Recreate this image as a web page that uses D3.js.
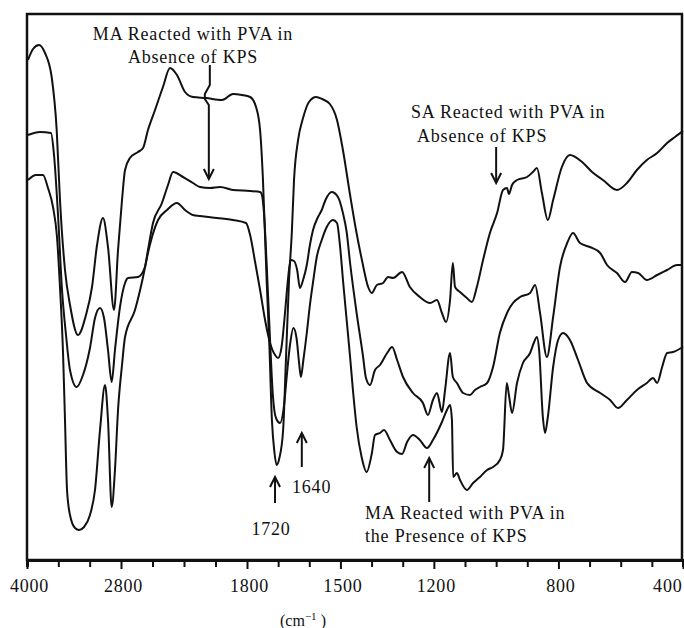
<!DOCTYPE html>
<html>
<head>
<meta charset="utf-8">
<script src="https://cdn.jsdelivr.net/npm/d3@7"></script>
<style>
  html, body { margin: 0; padding: 0; background: #fff; }
  svg { display: block; }
  text { font-family: "Liberation Serif", "DejaVu Serif", serif; fill: #111; }
</style>
</head>
<body>
<svg id="chart" width="684" height="628"></svg>
<script>
// ---- data (wavenumber cm^-1, relative transmittance) ----
const tickValues = [4000,3600,3200,2800,2550,2300,2050,1800,1700,1600,1500,1400,1300,1200,1100,1000,900,800,700,600,500,400];
const tickLabels = [4000,2800,1800,1500,1200,800,400];

const saAbsence = [
[3987,101],[3923,103.2],[3847,104],[3770,102.4],[3685,97.6],[3621,87],[3579,73],[3515,59],[3451,52],[3349,46],
[3247,50],[3170,55.6],[3106,64],[3030,69.4],[2966,63.6],[2889,51],[2838,63],[2792,73],[2768,79],[2729,81.4],
[2665,82.6],[2625,83.4],[2586,87],[2530,91],[2467,95.6],[2411,99.4],[2356,98],[2292,94.6],[2229,93.6],[2125,93.4],
[1998,93],[1911,94.2],[1840,94],[1790,93.6],[1771,91.6],[1758,87],[1749,77.4],[1737,57],[1728,43.6],[1720,29],
[1712,22.6],[1705,20],[1696,21.4],[1684,27],[1675,41],[1665,57],[1656,66.6],[1649,77],[1636,85],[1620,89.4],
[1601,92.6],[1578,93.6],[1559,93.2],[1534,92.2],[1511,89],[1492,83],[1469,74],[1450,67],[1431,61],[1411,55.6],
[1399,54.4],[1383,56],[1363,56.4],
[1347,57.6],[1331,57.4],[1302,58.6],[1277,55.6],[1245,53.6],[1212,52.4],[1190,53],[1174,50.4],[1161,48.6],[1148,53],
[1139,60.4],[1132,55.6],[1116,54.6],[1094,53.4],[1078,52.6],[1062,55.6],[1042,61],[1020,66.4],[997,70.4],[978,75],
[965,75.4],[959,74.2],[949,76],[933,77],[901,77.6],[882,78.6],[869,79.4],[853,74.4],[834,69],[817,73],
[789,79.6],[763,82],[724,80.6],[692,78.6],[657,77],[612,75],[580,76.4],[548,79],[516,81],[483,82.4],
[451,84.4],[426,85.6],[400,86.8]
];

const maAbsence = [
[3987,86],[3834,86.6],[3694,86.4],[3655,82],[3604,70],[3553,55],[3502,46],[3451,39],[3366,35.6],[3285,38],
[3196,43.4],[3132,49.4],[3068,51.4],[3017,49.4],[2966,43],[2919,36.6],[2877,43],[2813,51.6],[2768,56.4],[2744,57.4],
[2665,57.6],[2610,59.6],[2586,63],[2546,68.4],[2475,72.4],[2427,76],[2387,78.6],[2308,77.6],[2229,76.4],[2173,75.6],
[2094,75.4],[2014,75.6],[1911,75],[1790,74.8],[1758,74.6],[1753,74.2],[1745,70],[1736,59],[1726,45],[1717,34],
[1707,29.4],[1694,28.4],[1681,32],[1672,38],[1662,44],[1651,47.4],[1641,45.4],[1633,40.6],[1627,37.6],[1619,41],
[1608,46.4],[1598,52],[1587,57],[1576,61.6],[1560,65],[1544,67.6],[1524,69],[1511,68.4],[1501,63.6],[1491,56.4],
[1480,49],[1469,41.6],[1459,34.4],[1448,27.6],[1432,21.6],[1416,18.6],
[1399,22.4],[1389,26],[1373,26.4],[1360,27],[1341,25],[1318,22.6],[1302,22.2],[1286,24.6],[1267,26],[1245,25],
[1222,23.4],[1203,25],[1174,28.6],[1158,31],[1148,32],[1142,29],[1138,17.6],[1126,18.4],[1116,17],[1094,15],
[1074,16.4],[1052,17.6],[1029,19],[1010,19.6],[988,21],[978,23],[966,36.4],[959,34],[949,30.4],[933,36.4],
[914,40.4],[891,42.4],[878,44.6],[869,45.6],[862,43],[850,29.6],[843,26.4],[834,29.6],[817,39.6],[801,45],
[785,46.4],[763,45],[737,41],[708,36.4],[666,34.4],[634,33],[609,31.4],[580,33],[548,35],[516,36.4],
[496,37.4],[483,36.4],[467,39.6],[451,42.4],[432,42.6],[400,43.6]
];

const maPresence = [
[3987,77],[3885,78],[3796,78],[3732,75.4],[3668,71.6],[3617,65.6],[3579,55.6],[3540,42.4],[3515,29],[3489,15],
[3451,10],[3387,7.4],[3336,7],[3272,7.6],[3196,10],[3132,15],[3068,27],[3004,36],[2966,29],[2919,11.6],
[2877,19],[2838,31],[2792,40],[2768,45.6],[2689,51],[2625,57.6],[2586,62.4],[2554,65.6],[2506,69],[2435,71],
[2356,72.4],[2292,71],[2229,70],[2173,69.8],[2038,69.4],[1911,69],[1808,68.4],[1790,66],[1774,60.6],[1758,55],
[1742,49],[1726,44.4],[1710,42],[1700,41.4],[1689,43.6],[1678,50.4],[1668,57.4],[1660,61],[1649,60.8],[1639,59],
[1630,55.4],[1620,57],[1608,60],[1598,64],[1588,67],[1572,69.6],[1560,71],[1548,73],[1528,74.6],[1508,73.6],
[1492,70.4],[1480,66.6],[1469,60.4],[1448,50.4],[1428,42],[1418,37.4],[1405,36],
[1389,39],[1373,40],[1350,42.4],[1334,43.6],[1318,41],[1299,37.6],[1267,34.4],[1235,32.4],[1219,30],[1203,33],
[1190,34.4],[1174,30.6],[1164,35],[1148,42.4],[1139,37.6],[1126,36.4],[1106,34.4],[1084,34],[1068,35],[1052,35.6],
[1029,36.4],[1010,39.6],[988,46.4],[965,50.4],[946,52.4],[923,53.6],[891,54.4],[875,56],[859,50.4],[837,41.6],
[817,49.6],[795,59.6],[772,64.4],[753,66.4],[731,64.4],[699,63.6],[666,62.4],[644,60],[612,58.4],[586,56.6],
[564,58.6],[544,58.4],[516,57],[483,58],[451,59],[419,60],[400,60]
];

// ---- scales ----
const svg = d3.select("#chart");
const frame = {left: 27, right: 682, top: 14, bottom: 560};

const x = d3.scaleLinear()
  .domain([4000, 2800, 1800, 400])
  .range([27, 121, 247, 683]);
const y = d3.scaleLinear().domain([0, 110]).range([565, 15]);

// ---- frame ----
svg.append("rect")
  .attr("x", frame.left).attr("y", frame.top)
  .attr("width", frame.right - frame.left).attr("height", frame.bottom - frame.top)
  .attr("fill", "none").attr("stroke", "#111").attr("stroke-width", 2.5);

// ---- axis ----
const axis = d3.axisBottom(x)
  .tickValues(tickValues)
  .tickSize(7)
  .tickPadding(12)
  .tickFormat(d => tickLabels.includes(d) ? String(d) : "");
const gAxis = svg.append("g").attr("transform", `translate(0,${frame.bottom})`).call(axis);
gAxis.select(".domain").attr("stroke", "#111").attr("stroke-width", 3);
gAxis.selectAll(".tick line").attr("stroke", "#111").attr("stroke-width", 2)
  .attr("y2", d => tickLabels.includes(d) ? 9 : 7);
gAxis.selectAll(".tick text")
  .attr("font-family", "Liberation Serif, serif")
  .attr("font-size", 18).attr("letter-spacing", 0.8).attr("fill", "#111")
  .attr("text-anchor", d => d === 400 ? "end" : "middle")
  .attr("dx", d => d === 400 ? -1 : 2);

// ---- curves ----
const line = d3.line()
  .x(d => x(d[0]))
  .y(d => y(d[1]))
  .curve(d3.curveMonotoneX);

[saAbsence, maAbsence, maPresence].forEach(s => {
  svg.append("path").datum(s)
    .attr("d", line)
    .attr("fill", "none")
    .attr("stroke", "#111")
    .attr("stroke-width", 2)
    .attr("stroke-linejoin", "round");
});

// ---- annotations ----
function txt(t, px, py, anchor, size) {
  svg.append("text").attr("x", px).attr("y", py)
    .attr("text-anchor", anchor || "start")
    .attr("font-size", size || 18)
    .attr("letter-spacing", 0.8)
    .text(t);
}
txt("MA Reacted with PVA in", 193, 40, "middle");
txt("Absence of KPS", 193, 63, "middle");
txt("SA Reacted with PVA in", 411, 118, "start");
txt("Absence of KPS", 417, 142, "start");
txt("MA Reacted with PVA in", 365, 519, "start");
txt("the Presence of KPS", 365, 542, "start");
txt("1720", 271, 535, "middle");
txt("1640", 292, 493, "start");

const unit = svg.append("text").attr("x", 303).attr("y", 626)
  .attr("text-anchor", "middle").attr("font-size", 16);
unit.append("tspan").text("(cm");
unit.append("tspan").attr("dy", -6).attr("font-size", 11).text("−1");
unit.append("tspan").attr("dy", 6).text(" )");

function arrow(wn, tFrom, tTo, wiggle) {
  const ax = x(wn), y0 = y(tFrom), y1 = y(tTo);
  const dir = y1 > y0 ? 1 : -1;
  let p;
  if (wiggle) {
    p = `M${ax},${y0} L${ax},${y0 + 20} L${ax - 5},${y0 + 29} L${ax - 5},${y0 + 34} L${ax - 1},${y0 + 40} L${ax - 1},${y1}`;
  } else {
    p = `M${ax},${y0} L${ax},${y1}`;
  }
  svg.append("path").attr("d", p).attr("fill", "none").attr("stroke", "#111").attr("stroke-width", 2);
  const tipX = wiggle ? ax - 1 : ax;
  svg.append("path")
    .attr("d", `M${tipX - 5},${y1 - dir * 10} L${tipX},${y1} L${tipX + 5},${y1 - dir * 10}`)
    .attr("fill", "none").attr("stroke", "#111").attr("stroke-width", 2);
}
arrow(2095, 100, 77.2, true);
arrow(1000, 83.6, 76.4, false);
arrow(1215, 12.6, 21.4, false);
arrow(1710, 12.4, 17.6, false);
arrow(1624, 19.6, 26.4, false);
</script>
</body>
</html>
